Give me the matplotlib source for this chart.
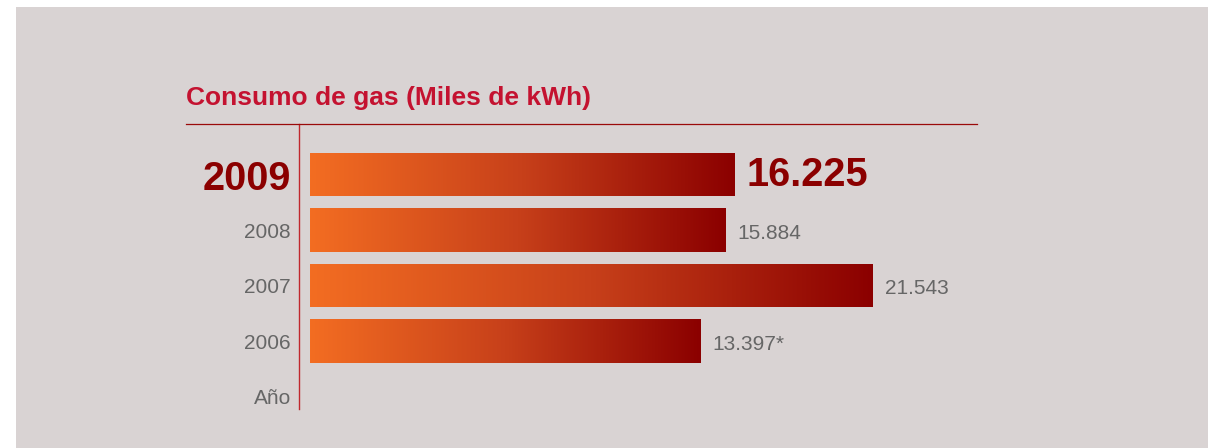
import numpy as np
import matplotlib.pyplot as plt
from matplotlib.colors import LinearSegmentedColormap
from matplotlib.patches import Rectangle
from matplotlib.lines import Line2D

plt.rcParams['font.family'] = ['Liberation Sans', 'DejaVu Sans']

# data
years = ["2009", "2008", "2007", "2006"]
bar_values = [16225, 15884, 21543, 14960]   # drawn length (2006 bar is longer than its label)
value_labels = ["16.225", "15.884", "21.543", "13.397*"]
axis_label = "Año"
title = "Consumo de gas (Miles de kWh)"

W, H = 1208, 448
bg = "#d9d3d3"
dark_red = "#8b0000"
grey = "#666666"

fig = plt.figure(figsize=(W / 100, H / 100), dpi=100, facecolor="white")
# grey panel with white margin top/left
fig.patches.append(Rectangle((16 / W, 0), 1, 1 - 7 / H, transform=fig.transFigure,
                             facecolor=bg, edgecolor="none", zorder=-5))

# title and rule under it
fig.text(186 / W, 1 - 105.5 / H, title, color="#c41230", fontsize=19,
         fontweight="bold", va="baseline", ha="left")
fig.lines.append(Line2D([186 / W, 977 / W], [1 - 124.3 / H] * 2, transform=fig.transFigure,
                        color="#9a0a0a", linewidth=0.9))

left_px, right_px, top_px, bot_px = 298.5, 977, 124.3, 409
ax = fig.add_axes([left_px / W, 1 - bot_px / H, (right_px - left_px) / W, (bot_px - top_px) / H])
ax.set_facecolor("none")
ax.set_zorder(2)

units_per_px = 21543 / 563
row_px = 55.5

cmap = LinearSegmentedColormap.from_list("gasgrad", ["#f36d22", "#c7401a", dark_red])
grad = np.linspace(0, 1, 256).reshape(1, -1)

ypos = np.arange(len(years))
bars = ax.barh(ypos, bar_values, height=44 / row_px, color="none", edgecolor="none")
for b in bars:
    x0, y0, w, h = b.get_x(), b.get_y(), b.get_width(), b.get_height()
    im = ax.imshow(grad, extent=[x0, x0 + w, y0 + h, y0], cmap=cmap, aspect="auto",
                   interpolation="bilinear", zorder=2)
    im.set_clip_path(b)
ax.set_xlim(-11.5 * units_per_px, (right_px - 310) * units_per_px)
ax.set_ylim(4 + (bot_px - 396.5) / row_px, -(174.5 - top_px) / row_px)

# value labels
for i, (v, lab) in enumerate(zip(bar_values, value_labels)):
    if i == 0:
        ax.annotate(lab, (v, i), xytext=(9, -0.5), textcoords="offset points",
                    va="center", ha="left", fontsize=28.5, fontweight="bold", color=dark_red)
    else:
        ax.annotate(lab, (v, i), xytext=(8.5, -2.2), textcoords="offset points",
                    va="center", ha="left", fontsize=15, color=grey)

# year labels on the axis
ax.set_yticks(list(ypos) + [4])
ax.set_yticklabels(years + [axis_label])
ax.tick_params(axis="y", length=0, pad=5.5, labelsize=15, labelcolor=grey)
ax.tick_params(axis="x", bottom=False, labelbottom=False)
first = ax.get_yticklabels()[0]
first.set_fontsize(28.5)
first.set_fontweight("bold")
first.set_color(dark_red)

for s in ["top", "right", "bottom"]:
    ax.spines[s].set_visible(False)
ax.spines["left"].set_color("#c0282d")
ax.spines["left"].set_linewidth(1.0)

fig.savefig("out.png", dpi=100, facecolor="white")
